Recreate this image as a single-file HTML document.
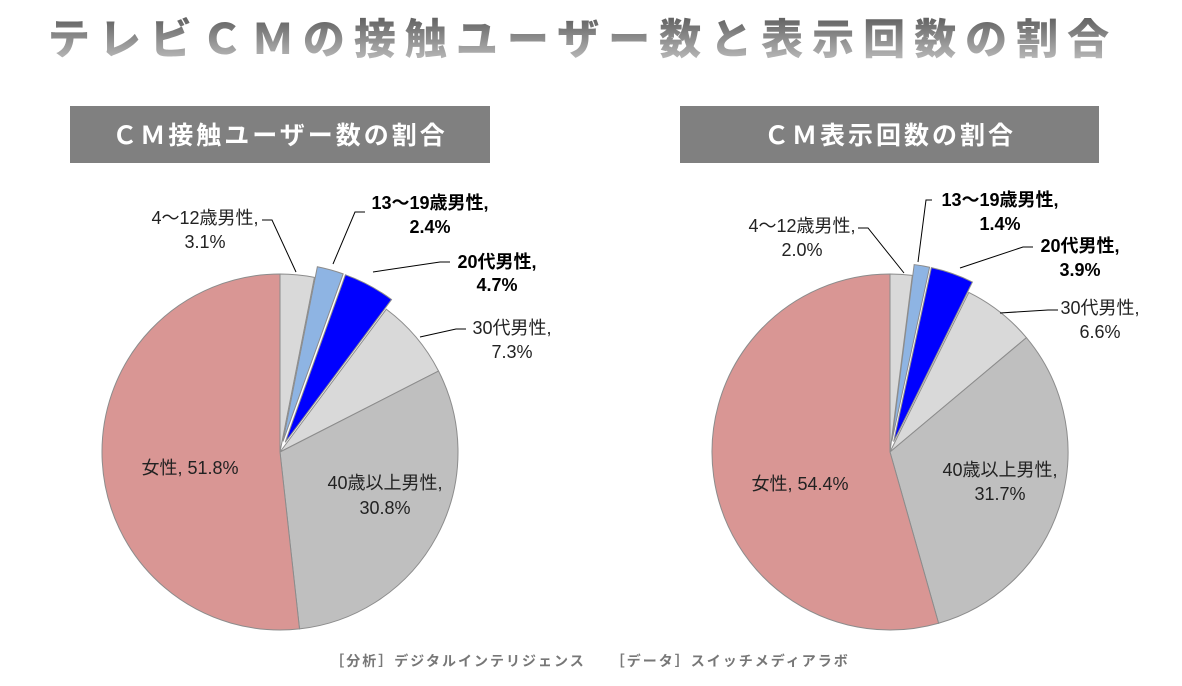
<!DOCTYPE html>
<html><head><meta charset="utf-8">
<style>
body{margin:0;width:1182px;height:681px;background:#fff;overflow:hidden;font-family:"Liberation Sans","Noto Sans CJK JP",sans-serif;}
</style></head>
<body>
<svg id="s" width="1182" height="681" xmlns="http://www.w3.org/2000/svg" font-family="'Liberation Sans','Noto Sans CJK JP',sans-serif">
<defs>
<linearGradient id="tg" x1="0" y1="0" x2="0" y2="1">
<stop offset="0" stop-color="#4a4a4a"/><stop offset="1" stop-color="#c8c8c8"/>
</linearGradient>
</defs>
<text x="583" y="54" text-anchor="middle" font-size="42" font-weight="900" fill="url(#tg)" letter-spacing="9" font-family="'Noto Sans CJK JP',sans-serif">テレビＣＭの接触ユーザー数と表示回数の割合</text>
<rect x="70" y="106" width="420" height="57" fill="#808080"/>
<text x="280" y="144" text-anchor="middle" font-size="25" font-weight="bold" fill="#fff" letter-spacing="3" font-family="'Noto Sans CJK JP',sans-serif">ＣＭ接触ユーザー数の割合</text>
<rect x="680" y="106" width="419" height="57" fill="#808080"/>
<text x="890" y="144" text-anchor="middle" font-size="25" font-weight="bold" fill="#fff" letter-spacing="3" font-family="'Noto Sans CJK JP',sans-serif">ＣＭ表示回数の割合</text>
<g id="p1"></g><g id="p2"></g>
<g stroke="#000" stroke-width="1" fill="none">
<polyline points="262,220 272,220 296,272"/>
<polyline points="365,212 355,212 333,264"/>
<polyline points="450,262 440,262 373,272"/>
<polyline points="466,329 456,329 420,337"/>
<polyline points="858,228 868,228 904,273"/>
<polyline points="932,200 926,200 918,262"/>
<polyline points="1033,247 1023,247 960,268"/>
<polyline points="1058,310 1048,310 1000,313"/>
</g>
<g font-size="18" fill="#222" text-anchor="middle">
<text x="205" y="224">4～12歳男性,</text><text x="205" y="248">3.1%</text>
<text x="430" y="209" font-weight="bold" fill="#000">13～19歳男性,</text><text x="430" y="233" font-weight="bold" fill="#000">2.4%</text>
<text x="497" y="268" font-weight="bold" fill="#000">20代男性,</text><text x="497" y="291" font-weight="bold" fill="#000">4.7%</text>
<text x="512" y="334">30代男性,</text><text x="512" y="358">7.3%</text>
<text x="385" y="489">40歳以上男性,</text><text x="385" y="514">30.8%</text>
<text x="190" y="474">女性, 51.8%</text>
<text x="802" y="232">4～12歳男性,</text><text x="802" y="256">2.0%</text>
<text x="1000" y="206" font-weight="bold" fill="#000">13～19歳男性,</text><text x="1000" y="230" font-weight="bold" fill="#000">1.4%</text>
<text x="1080" y="252" font-weight="bold" fill="#000">20代男性,</text><text x="1080" y="276" font-weight="bold" fill="#000">3.9%</text>
<text x="1100" y="314">30代男性,</text><text x="1100" y="338">6.6%</text>
<text x="1000" y="476">40歳以上男性,</text><text x="1000" y="500">31.7%</text>
<text x="800" y="490">女性, 54.4%</text>
</g>
<text x="590" y="666" text-anchor="middle" font-size="14" font-weight="bold" fill="#777" letter-spacing="2" font-family="'Noto Sans CJK JP',sans-serif">［分析］デジタルインテリジェンス　　［データ］スイッチメディアラボ</text>
</svg>
<script>
function pie(id,cx,cy,r,vals,cols,ex){
 var g=document.getElementById(id),tot=vals.reduce(function(a,b){return a+b},0),a=0,h='';
 for(var i=0;i<vals.length;i++){
  var a0=a/tot*2*Math.PI,a1=(a+vals[i])/tot*2*Math.PI;a+=vals[i];
  var m=(a0+a1)/2,ox=ex[i]*Math.sin(m),oy=-ex[i]*Math.cos(m);
  var x0=cx+ox+r*Math.sin(a0),y0=cy+oy-r*Math.cos(a0),x1=cx+ox+r*Math.sin(a1),y1=cy+oy-r*Math.cos(a1);
  var lg=(a1-a0)>Math.PI?1:0;
  h+='<path d="M'+(cx+ox)+','+(cy+oy)+' L'+x0+','+y0+' A'+r+','+r+' 0 '+lg+' 1 '+x1+','+y1+' Z" fill="'+cols[i]+'" stroke="#8c8c8c" stroke-width="1"/>';
 }
 g.innerHTML=h;
}
var c=['#d9d9d9','#8eb4e3','#0000ff','#d9d9d9','#bfbfbf','#d99694'];
pie('p1',280,452,178,[3.1,2.4,4.7,7.3,30.8,51.8],c,[0,11,11,0,0,0]);
pie('p2',890,452,178,[2.0,1.4,3.9,6.6,31.7,54.4],c,[0,11,11,0,0,0]);
</script>
</body></html>
